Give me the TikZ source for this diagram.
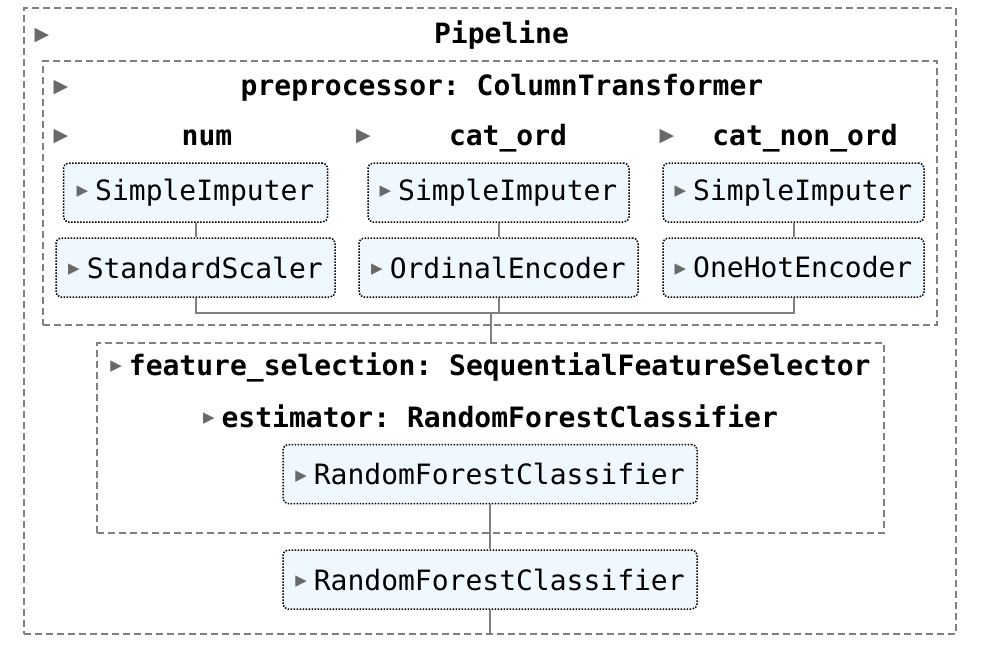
\documentclass[tikz,border=0pt]{standalone}
\usepackage{fontspec}
\setmonofont{DejaVu Sans Mono}
\newfontfamily\symfont{DejaVu Sans}
\usetikzlibrary{positioning}

\definecolor{boxfill}{HTML}{F0F8FF}
\definecolor{dashgray}{HTML}{808080}
\definecolor{wiregray}{HTML}{808080}
\definecolor{arrowgray}{HTML}{696969}

\newcommand{\lbltri}{\raisebox{2.2pt}{\color{arrowgray}\symfont\fontsize{7.5}{7.5}\selectfont ▶}\hspace{3.5pt}}

\begin{document}
\begin{tikzpicture}[x=0.5pt, y=-0.5pt,
    container/.style = {draw=dashgray, dash pattern=on 3.5pt off 2pt, line width=0.8pt, inner sep=0pt},
    est/.style = {draw=black, line width=0.75pt, dash pattern=on 0.75pt off 0.75pt, rounded corners=2.5pt,
                  fill=boxfill, minimum height=29.5pt, inner sep=0pt, font=\ttfamily\fontsize{14}{17}\selectfont},
    head/.style = {inner sep=0pt, anchor=base, font=\ttfamily\bfseries\fontsize{14}{17}\selectfont},
    headtri/.style = {inner sep=0pt, text=arrowgray, font=\symfont\fontsize{9.5}{9.5}\selectfont},
    wire/.style = {draw=wiregray, line width=1pt}]

      \useasboundingbox (0,0) rectangle (988,660);

      % dashed containers
      \node[container, line width=0.6pt, minimum width=466pt, minimum height=313pt] (pipeline) at (490,321) {};
      \node[container, minimum width=447pt, minimum height=132pt] (preproc) at (490,193) {};
      \node[container, minimum width=393.5pt, minimum height=95pt] (featsel) at (490.5,438) {};

      % container labels
      \node[headtri] (pipeline_tri) at (42,36) {▶};
      \node[head] (pipeline_lbl) at (501.5,43) {Pipeline};
      \node[headtri] (preproc_tri) at (61,88) {▶};
      \node[head] (preproc_lbl) at (502,95) {preprocessor: ColumnTransformer};

      % the three columns
      \foreach \col/\x/\tx/\lx/\wa/\wb/\lbl/\first/\second in {
          num/195.5/61/207/132/139.5/num/SimpleImputer/StandardScaler,
          catord/498.5/363.5/508/130.5/139.5/cat\_ord/SimpleImputer/OrdinalEncoder,
          catnonord/793.5/667/805/130.5/130.5/cat\_non\_ord/SimpleImputer/OneHotEncoder} {
        \node[headtri] (\col_tri) at (\tx,137) {▶};
        \node[head] (\col_lbl) at (\lx,145) {\lbl};
        \node[est, minimum width=\wa pt] (\col_imp) at (\x,192.5) {\lbltri\first};
        \node[est, minimum width=\wb pt] (\col_enc) at (\x,267.5) {\lbltri\second};
      }

      % feature selection
      \node[head] (featsel_lbl) at (490.5,375) {\lbltri feature\_selection: SequentialFeatureSelector};
      \node[head] (estim_lbl) at (490.5,427) {\lbltri estimator: RandomForestClassifier};
      \node[est, minimum width=207pt] (rfc_inner) at (490,474) {\lbltri RandomForestClassifier};
      \node[est, minimum width=207pt, below=22.5pt of rfc_inner] (rfc_final) {\lbltri RandomForestClassifier};

      % connectors
      \foreach \col in {num, catord, catnonord}
        \draw[wire] (\col_imp) -- (\col_enc);

      \coordinate (bus) at (491,312.5);
      \draw[wire] (num_enc.south) |- (catnonord_enc.south |- bus) -- (catnonord_enc.south);
      \draw[wire] (catord_enc.south) -- (catord_enc.south |- bus);
      \draw[wire] (bus) -- (bus |- featsel.north);
      \draw[wire] (rfc_inner) -- (rfc_final);
      \draw[wire] (rfc_final) -- (rfc_final.south |- pipeline.south);

\end{tikzpicture}
\end{document}
